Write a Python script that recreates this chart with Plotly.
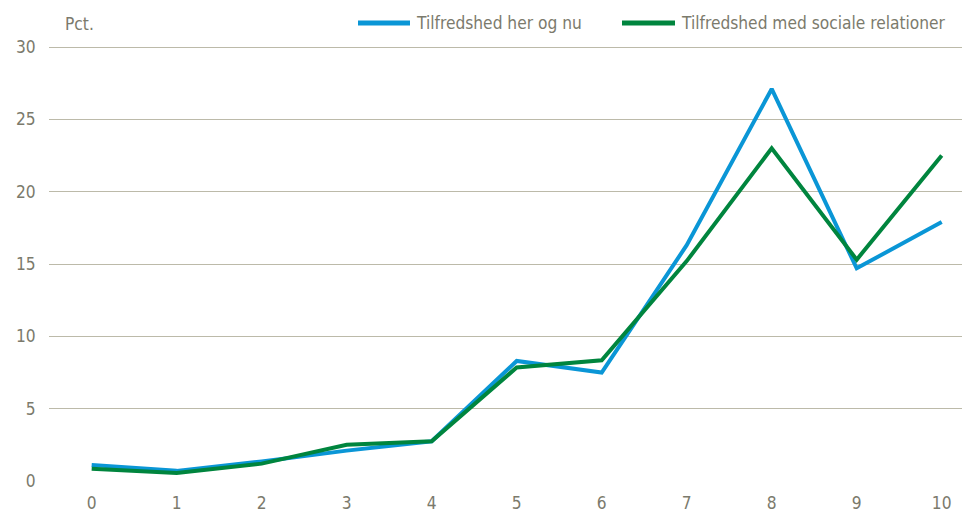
import plotly.graph_objects as go

categories = [0, 1, 2, 3, 4, 5, 6, 7, 8, 9, 10]
her_og_nu = [1.1, 0.7, 1.35, 2.1, 2.75, 8.3, 7.5, 16.3, 27.1, 14.7, 17.9]
sociale_relationer = [0.85, 0.55, 1.2, 2.5, 2.75, 7.85, 8.35, 15.2, 23.0, 15.3, 22.5]
y_ticks = [0, 5, 10, 15, 20, 25, 30]
series_names = ["Tilfredshed her og nu", "Tilfredshed med sociale relationer"]
series_colors = ["#0a96d6", "#00853e"]

FONT = "DejaVu Sans Condensed, Liberation Sans Narrow, Liberation Sans, Arial, sans-serif"
TXT = "#7b7a6c"

fig = go.Figure()
for name, vals, col in zip(series_names, [her_og_nu, sociale_relationer], series_colors):
    fig.add_trace(go.Scatter(x=categories, y=vals, mode="lines", name=name,
                             line=dict(color=col, width=4)))

# plot area: left 41, width 929, top 38, height 435 (figure px)
PW, PH = 929.0, 435.0
def px(xpix):  # screen px -> paper x (page has 8px body margin)
    return (xpix - 8 - 41) / PW
def py(ypix):
    return (473 - (ypix - 8)) / PH

legend_pos = [(358, 410), (622, 675)]
shapes = []
annotations = []
for (x0, x1), name, col in zip(legend_pos, series_names, series_colors):
    shapes.append(dict(type="line", xref="paper", yref="paper", x0=px(x0), x1=px(x1),
                       y0=py(23), y1=py(23), line=dict(color=col, width=5)))
    annotations.append(dict(text=name, xref="paper", yref="paper", x=px(x1 + 4), y=py(23),
                            xanchor="left", yanchor="middle", showarrow=False,
                            font=dict(family=FONT, size=17.2, color=TXT)))
annotations.append(dict(text="Pct.", xref="paper", yref="paper", x=px(63), y=py(24),
                        xanchor="left", yanchor="middle", showarrow=False,
                        font=dict(family=FONT, size=17.2, color=TXT)))

fig.update_layout(
    width=970, height=513,
    margin=dict(l=41, r=0, t=38, b=40, autoexpand=False),
    paper_bgcolor="white", plot_bgcolor="white",
    font=dict(family=FONT, size=17.2, color=TXT),
    showlegend=False,
    xaxis=dict(tickmode="array", tickvals=categories, ticktext=[str(c) for c in categories],
               range=[-0.502, 10.427], showgrid=False, zeroline=False, showline=False,
               ticks="outside", ticklen=6, tickcolor="rgba(0,0,0,0)", automargin=False,
               tickfont=dict(family=FONT, size=17.2, color=TXT)),
    yaxis=dict(tickmode="array", tickvals=y_ticks, range=[0, 30.07],
               showgrid=True, gridcolor="#bcbaa9", gridwidth=1.2,
               zeroline=False, showline=False, automargin=False,
               ticks="outside", ticklen=9, tickcolor="rgba(0,0,0,0)",
               tickfont=dict(family=FONT, size=17.2, color=TXT)),
    shapes=shapes,
    annotations=annotations,
)

fig.write_html("out.html")
